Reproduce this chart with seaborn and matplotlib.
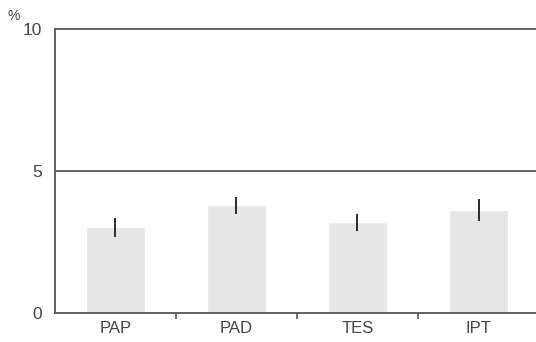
import matplotlib
matplotlib.use("Agg")
import matplotlib.pyplot as plt
import seaborn as sns
import pandas as pd
import numpy as np

categories = ["PAP", "PAD", "TES", "IPT"]
values = [3.02, 3.80, 3.20, 3.63]
errors = [0.33, 0.30, 0.30, 0.38]

sns.set_style("white")
plt.rcParams['font.family'] = ['Liberation Sans', 'DejaVu Sans']

df = pd.DataFrame({"cat": categories, "val": values})

fig = plt.figure(figsize=(5.36, 3.42), dpi=100)
ax = fig.add_axes([0.1026, 0.0848, 0.903, 0.8304])

sns.barplot(data=df, x="cat", y="val", color="#e6e6e6", saturation=1,
            width=0.48, errorbar=None, ax=ax, zorder=2)
ax.errorbar(np.arange(len(categories)), values, yerr=errors, fmt="none",
            ecolor="#2a2a2a", elinewidth=1.4, capsize=0, zorder=3)

ax.set_xlim(-0.5, 3.5)
ax.set_ylim(0, 10)
ax.set_xlabel("")
ax.set_ylabel("")

spine_c = "#555555"
for s in ["left", "bottom", "top"]:
    ax.spines[s].set_visible(True)
    ax.spines[s].set_color(spine_c)
    ax.spines[s].set_linewidth(1.3)
ax.spines["right"].set_visible(False)
ax.axhline(5, color=spine_c, linewidth=1.3, zorder=1)

ax.set_yticks([0, 5, 10])
ax.set_yticklabels(["0", "5", "10"])
ax.tick_params(axis="y", length=0, pad=9, labelsize=12.5, labelcolor="#444444")

ax.set_xticks(np.arange(len(categories)))
ax.set_xticklabels(categories)
ax.tick_params(axis="x", which="major", bottom=True, length=0, pad=6,
               labelsize=12, labelcolor="#444444")
# separator ticks between categories
ax.set_xticks([0.5, 1.5, 2.5], minor=True)
ax.tick_params(axis="x", which="minor", bottom=True, length=4, width=1.2,
               color=spine_c, direction="out")

fig.text(8/536, 1 - 20/342, "%", fontsize=10, color="#444444")

fig.savefig("out.png", dpi=100)
